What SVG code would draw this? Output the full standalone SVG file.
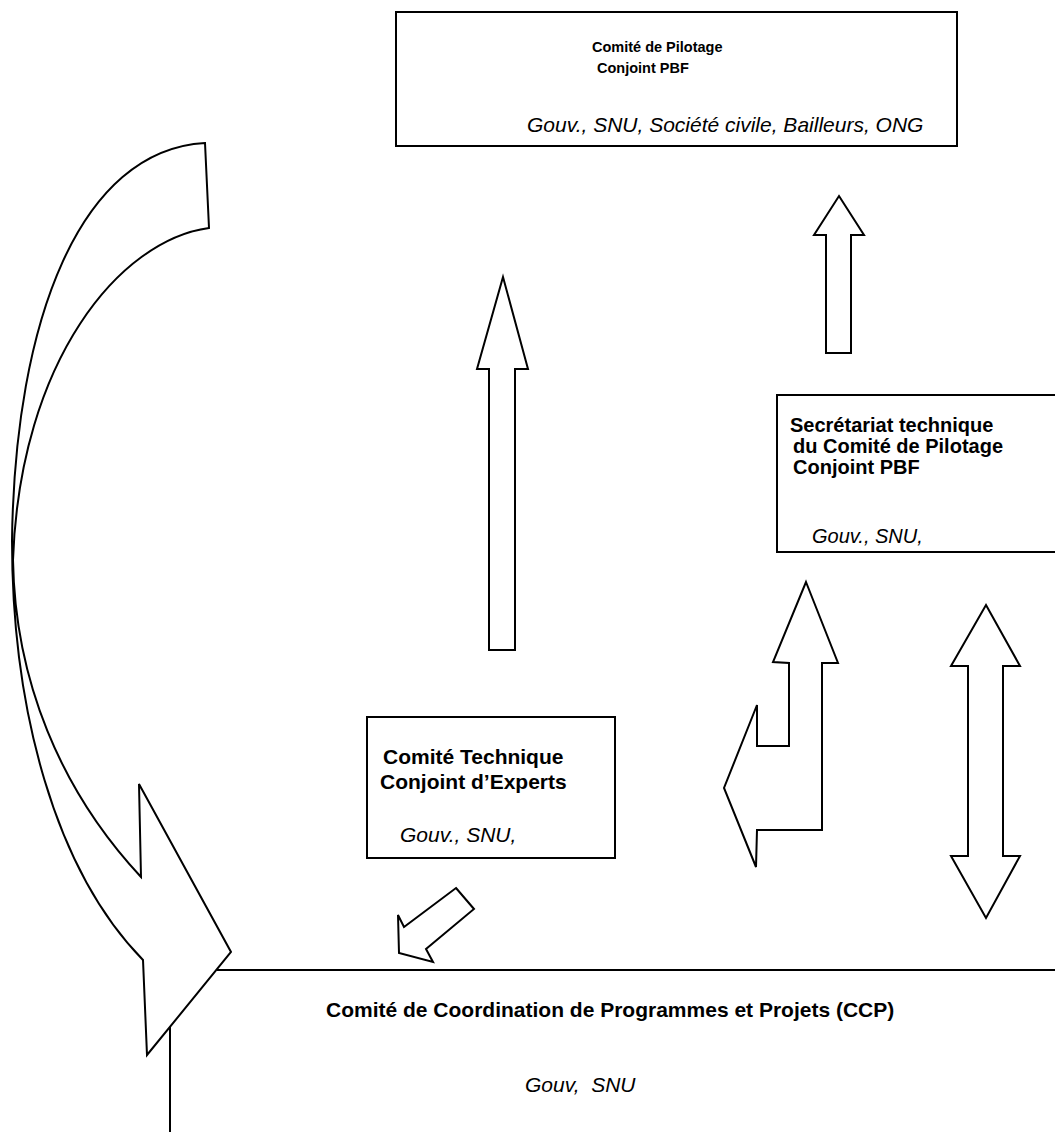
<svg xmlns="http://www.w3.org/2000/svg" width="1055" height="1132" viewBox="0 0 1055 1132">
<style>
.ln{fill:none;stroke:#000;stroke-width:2}
.sh{fill:#fff;stroke:#000;stroke-width:2;stroke-linejoin:miter}
.b{font-family:"Liberation Sans",Arial,sans-serif;font-weight:bold;font-size:21px;fill:#000}
.i{font-family:"Liberation Sans",Arial,sans-serif;font-style:italic;font-size:21px;fill:#000}
.s{font-size:14.5px}
.m{font-size:20px}
</style>
<rect width="1055" height="1132" fill="#fff"/>
<g id="connectors">
<path class="sh" d="M205,143 L209,228 C120,240 20,360 13,560 C15,680 60,790 141,877 L139,784 L231,952 L147,1055 L143,960 C55,870 12,710 12,540 C15,320 80,150 205,143 Z"/>
<path class="sh" d="M503,277 L528,369 L515,369 L515,650 L489,650 L489,369 L477,369 Z"/>
<path class="sh" d="M839,196 L864,235 L851,235 L851,353 L826,353 L826,235 L814,235 Z"/>
<path class="sh" d="M806,582 L838,663 L822,663 L822,830 L757,830 L756,867 L724,788 L757,705 L757,746 L789,746 L789,663 L773,662 Z"/>
<path class="sh" d="M986,605 L1020,666 L1003,666 L1003,856 L1020,856 L986,918 L951,856 L968,856 L968,666 L951,666 Z"/>
<path class="sh" d="M456,888 L474,909 L426,949 L433,962 L399,953 L398,915 L404,927 Z"/>
</g>
<g id="n-pilotage">
<rect class="ln" x="396" y="12" width="561" height="134"/>
<text class="b s" x="592" y="52">Comité de Pilotage</text>
<text class="b s" x="597" y="73">Conjoint PBF</text>
<text class="i" x="527" y="132">Gouv., SNU, Société civile, Bailleurs, ONG</text>
</g>
<g id="n-secretariat">
<path class="ln" d="M1055,395 L777,395 L777,552 L1055,552"/>
<text class="b m" x="790" y="432">Secrétariat technique</text>
<text class="b m" x="793" y="453">du Comité de Pilotage</text>
<text class="b m" x="793" y="474">Conjoint PBF</text>
<text class="i m" x="812" y="543">Gouv., SNU,</text>
</g>
<g id="n-technique">
<rect class="ln" x="367" y="717" width="248" height="141"/>
<text class="b" x="383" y="764">Comité Technique</text>
<text class="b" x="380" y="789">Conjoint d’Experts</text>
<text class="i" x="400" y="842">Gouv., SNU,</text>
</g>
<g id="n-ccp">
<path class="ln" d="M217,970 L1055,970"/>
<path class="ln" d="M170,1027 L170,1132"/>
<text class="b" x="326" y="1017">Comité de Coordination de Programmes et Projets (CCP)</text>
<text class="i" x="525" y="1092">Gouv,&#160; SNU</text>
</g>
</svg>
